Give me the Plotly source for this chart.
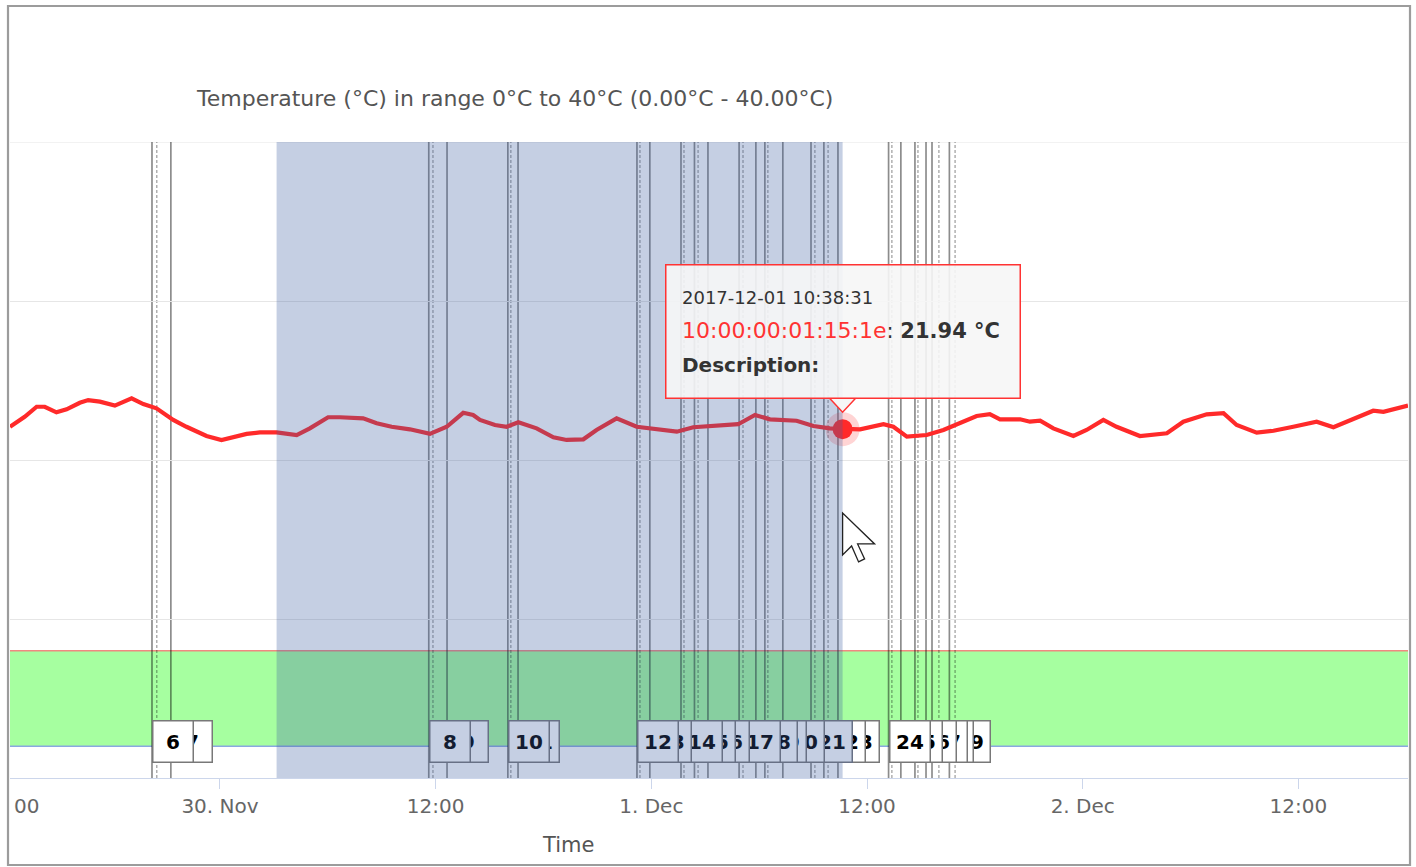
import plotly.graph_objects as go
import pandas as pd

# ---- temperature log (°C) ----
times = [
    "2017-11-29 12:19", "2017-11-29 13:08", "2017-11-29 13:48", "2017-11-29 14:15",
    "2017-11-29 14:54", "2017-11-29 15:28", "2017-11-29 16:12", "2017-11-29 16:40",
    "2017-11-29 17:19", "2017-11-29 18:09", "2017-11-29 19:05", "2017-11-29 19:44",
    "2017-11-29 20:28", "2017-11-29 21:24", "2017-11-29 22:08", "2017-11-29 23:15",
    "2017-11-30 00:05", "2017-11-30 00:44", "2017-11-30 01:29", "2017-11-30 02:13",
    "2017-11-30 03:09", "2017-11-30 04:16", "2017-11-30 05:00", "2017-11-30 06:01",
    "2017-11-30 06:40", "2017-11-30 07:58", "2017-11-30 08:43", "2017-11-30 09:33",
    "2017-11-30 10:34", "2017-11-30 11:41", "2017-11-30 12:37", "2017-11-30 13:32",
    "2017-11-30 14:05", "2017-11-30 14:28", "2017-11-30 15:18", "2017-11-30 15:57",
    "2017-11-30 16:36", "2017-11-30 17:37", "2017-11-30 18:33", "2017-11-30 19:17",
    "2017-11-30 20:13", "2017-11-30 20:57", "2017-11-30 22:04", "2017-11-30 23:11",
    "2017-12-01 00:29", "2017-12-01 01:25", "2017-12-01 02:20", "2017-12-01 03:27",
    "2017-12-01 04:50", "2017-12-01 05:46", "2017-12-01 06:36", "2017-12-01 08:05",
    "2017-12-01 09:01", "2017-12-01 09:56", "2017-12-01 10:38:31", "2017-12-01 11:37",
    "2017-12-01 12:55", "2017-12-01 13:28", "2017-12-01 14:13", "2017-12-01 15:19",
    "2017-12-01 16:15", "2017-12-01 17:10", "2017-12-01 18:06", "2017-12-01 18:50",
    "2017-12-01 19:24", "2017-12-01 20:31", "2017-12-01 21:04", "2017-12-01 21:38",
    "2017-12-01 22:22", "2017-12-01 23:29", "2017-12-02 00:13", "2017-12-02 01:09",
    "2017-12-02 01:53", "2017-12-02 03:11", "2017-12-02 04:41", "2017-12-02 05:36",
    "2017-12-02 06:54", "2017-12-02 07:50", "2017-12-02 08:34", "2017-12-02 09:41",
    "2017-12-02 10:37", "2017-12-02 11:43", "2017-12-02 13:01", "2017-12-02 13:57",
    "2017-12-02 15:04", "2017-12-02 16:10", "2017-12-02 16:44", "2017-12-02 18:06",
]
temps = [
    22.09, 22.72, 23.35, 23.35, 23.00, 23.19, 23.60, 23.77,
    23.67, 23.42, 23.88, 23.52, 23.25, 22.52, 22.09, 21.51,
    21.26, 21.43, 21.64, 21.74, 21.74, 21.57, 21.99, 22.69,
    22.69, 22.62, 22.31, 22.09, 21.93, 21.64, 22.09, 22.97,
    22.83, 22.52, 22.20, 22.09, 22.37, 21.99, 21.43, 21.26,
    21.30, 21.89, 22.62, 22.09, 21.93, 21.78, 22.06, 22.16,
    22.25, 22.83, 22.56, 22.47, 22.14, 21.99, 21.94, 21.93,
    22.25, 22.09, 21.47, 21.57, 21.89, 22.31, 22.77, 22.89,
    22.56, 22.56, 22.41, 22.47, 21.99, 21.51, 21.89, 22.52,
    22.09, 21.51, 21.68, 22.41, 22.87, 22.94, 22.20, 21.72,
    21.84, 22.09, 22.41, 22.06, 22.62, 23.10, 23.03, 23.42,
]

# hovered reading
sensor_id = "10:00:00:01:15:1e"
selected_time = "2017-12-01 10:38:31"
selected_temp = 21.94

# numbered events (solid plot lines) and their companion markers (dashed)
event_ids = list(range(6, 30))
event_times = [
    "2017-11-29 20:13", "2017-11-29 21:16", "2017-11-30 11:37", "2017-11-30 12:38",
    "2017-11-30 16:01", "2017-11-30 16:35", "2017-11-30 23:12", "2017-11-30 23:55",
    "2017-12-01 01:39", "2017-12-01 02:24", "2017-12-01 03:09", "2017-12-01 04:53",
    "2017-12-01 05:49", "2017-12-01 06:19", "2017-12-01 07:19", "2017-12-01 08:53",
    "2017-12-01 09:36", "2017-12-01 10:23", "2017-12-01 13:12", "2017-12-01 13:53",
    "2017-12-01 14:40", "2017-12-01 15:17", "2017-12-01 15:37", "2017-12-01 16:35",
]
marker_times = [
    "2017-11-29 20:29", "2017-11-30 11:51", "2017-11-30 16:11", "2017-11-30 23:22",
    "2017-12-01 01:49", "2017-12-01 02:36", "2017-12-01 05:06", "2017-12-01 06:29",
    "2017-12-01 09:06", "2017-12-01 09:50", "2017-12-01 13:23", "2017-12-01 14:50",
    "2017-12-01 16:00", "2017-12-01 16:54",
]

# selected period (plot band)
band_start = "2017-11-30 03:09"
band_end = selected_time

# acceptable range band
limit_low, limit_high = 2, 8
y_min, y_max = 0, 40

x_range = ["2017-11-29 12:19", "2017-12-02 18:06"]
tick_vals = ["2017-11-30 00:00", "2017-11-30 12:00", "2017-12-01 00:00",
             "2017-12-01 12:00", "2017-12-02 00:00", "2017-12-02 12:00"]
tick_text = ["30. Nov", "12:00", "1. Dec", "12:00", "2. Dec", "12:00"]

title_text = "Temperature (°C) in range 0°C to 40°C (0.00°C - 40.00°C)"

# ---- page geometry ----
W, H = 1416, 867
ML, MR, MT, MB = 10, 8, 142, 89
plot_w = W - ML - MR
plot_h = H - MT - MB
FONT = "DejaVu Sans"

BAND_RGB = (62, 95, 162)
BAND_A = 0.3


def blend(rgb):
    r, g, b = (round(c * (1 - BAND_A) + bc * BAND_A) for c, bc in zip(rgb, BAND_RGB))
    return f"rgb({r},{g},{b})"


fig = go.Figure()

fig.add_trace(go.Scatter(
    x=times, y=temps, mode="lines",
    line=dict(color="#ff2a2a", width=4.2, shape="linear"),
    hoverinfo="skip", showlegend=False,
))
# highlighted point with halo
fig.add_trace(go.Scatter(
    x=[selected_time], y=[selected_temp], mode="markers",
    marker=dict(size=34, color="rgba(255,60,60,0.22)", line=dict(width=0)),
    hoverinfo="skip", showlegend=False,
))
fig.add_trace(go.Scatter(
    x=[selected_time], y=[selected_temp], mode="markers",
    marker=dict(size=20, color="#ff2a2a", line=dict(width=0)),
    hoverinfo="skip", showlegend=False,
))

shapes = []
# limits band
shapes.append(dict(type="rect", xref="paper", x0=0, x1=1, yref="y", y0=limit_low, y1=limit_high,
                   fillcolor="#a6ffa0", line=dict(width=0), layer="below"))
shapes.append(dict(type="line", xref="paper", x0=0, x1=1, yref="y", y0=limit_high, y1=limit_high,
                   line=dict(color="#f08a80", width=1.5), layer="below"))
shapes.append(dict(type="line", xref="paper", x0=0, x1=1, yref="y", y0=limit_low, y1=limit_low,
                   line=dict(color="#8aa8e0", width=1.5), layer="below"))
# top grid line
shapes.append(dict(type="line", xref="paper", x0=0, x1=1, yref="y", y0=y_max, y1=y_max,
                   line=dict(color="#e6e6e6", width=1.2), layer="below"))

for t in marker_times:
    shapes.append(dict(type="line", xref="x", x0=t, x1=t, yref="paper", y0=0, y1=1,
                       line=dict(color="rgba(0,0,0,0.36)", width=1.3, dash="3px,2px"), layer="below"))
for t in event_times:
    shapes.append(dict(type="line", xref="x", x0=t, x1=t, yref="paper", y0=0, y1=1,
                       line=dict(color="rgba(0,0,0,0.45)", width=1.7), layer="below"))

# selected period overlay
shapes.append(dict(type="rect", xref="x", x0=band_start, x1=band_end, yref="paper", y0=0, y1=1,
                   fillcolor=f"rgba({BAND_RGB[0]},{BAND_RGB[1]},{BAND_RGB[2]},{BAND_A})",
                   line=dict(width=0), layer="above"))

# tooltip pointer
shapes.append(dict(type="path", xref="x", yref="y", xsizemode="pixel", ysizemode="pixel",
                   xanchor=selected_time, yanchor=selected_temp,
                   path="M -13,31 L 0,17 L 13,31 Z",
                   fillcolor="#f6f6f6", line=dict(color="#ff3333", width=1.5), layer="above"))

# mouse pointer
shapes.append(dict(type="path", xref="x", yref="y", xsizemode="pixel", ysizemode="pixel",
                   xanchor=selected_time, yanchor=16.67,
                   path="M 0,0 L 0,-42 L 9,-33 L 16,-49 L 22,-46 L 15,-31 L 32,-31 Z",
                   fillcolor="white", line=dict(color="#222", width=1.3), layer="above"))

# outer frame
shapes.append(dict(type="rect", xref="paper", yref="paper",
                   x0=-2 / plot_w, x1=1 + 2 / plot_w,
                   y0=-(MB - 2) / plot_h, y1=1 + (MT - 6) / plot_h,
                   line=dict(color="#9c9c9c", width=2.2), fillcolor="rgba(0,0,0,0)", layer="above"))

annotations = []

# event label boxes; earlier labels sit on top of later ones
x0_ts, x1_ts = pd.Timestamp(x_range[0]), pd.Timestamp(x_range[1])
px_per_hour = plot_w / ((x1_ts - x0_ts).total_seconds() / 3600)
BOX = 41
half_box = pd.Timedelta(hours=(BOX / 2) / px_per_hour)
b0, b1 = pd.Timestamp(band_start), pd.Timestamp(band_end)
for eid, t in reversed(list(zip(event_ids, event_times))):
    centre = pd.Timestamp(t) + half_box
    inside = b0 <= centre <= b1
    bg = blend((255, 255, 255)) if inside else "white"
    border = blend((120, 120, 120)) if inside else "rgb(120,120,120)"
    txt = blend((0, 0, 0)) if inside else "black"
    annotations.append(dict(
        x=t, xref="x", y=0, yref="paper", xanchor="left", yanchor="bottom", yshift=15,
        text=f"<b>{eid}</b>", showarrow=False, width=BOX - 2, height=BOX - 1,
        borderpad=0, borderwidth=1.5, bordercolor=border, bgcolor=bg,
        font=dict(family=FONT, size=20, color=txt), align="center", valign="middle",
    ))

# tooltip
annotations.append(dict(
    x=selected_time, xref="x", y=selected_temp, yref="y", xanchor="left", yanchor="bottom",
    xshift=-178, yshift=30, text=" ", showarrow=False, width=353, height=132,
    borderpad=0, borderwidth=1.5, bordercolor="#ff3333", bgcolor="rgba(246,246,246,0.9)",
))
tip_lines = [
    (f"{pd.Timestamp(selected_time):%Y-%m-%d %H:%M:%S}", 132, 18),
    (f"<span style='color:#ff3333;font-size:22px'>{sensor_id}</span>: "
     f"<b>{selected_temp:.2f} °C</b>", 99, 21),
    ("<b>Description:</b>", 64, 20),
]
for txt, dy, fs in tip_lines:
    annotations.append(dict(
        x=selected_time, xref="x", y=selected_temp, yref="y", xanchor="left", yanchor="middle",
        xshift=-163, yshift=dy, text=txt, showarrow=False, align="left",
        font=dict(family=FONT, size=fs, color="#333333"),
    ))

# x axis title and clipped left tick label
annotations.append(dict(x=(568 - ML) / plot_w, xref="paper", y=0, yref="paper", yanchor="middle",
                        yshift=-67, text="Time", showarrow=False,
                        font=dict(family=FONT, size=21, color="#555555")))
annotations.append(dict(x=0, xref="paper", y=0, yref="paper", xanchor="left", yanchor="middle",
                        xshift=2, yshift=-28, text="00", showarrow=False,
                        font=dict(family=FONT, size=20, color="#666666")))

fig.update_layout(
    width=W, height=H,
    margin=dict(l=ML, r=MR, t=MT, b=MB, pad=0),
    paper_bgcolor="white", plot_bgcolor="white",
    font=dict(family=FONT, size=20, color="#666666"),
    title=dict(text=title_text, x=197 / W, xanchor="left", xref="container",
               y=1 - 98 / H, yanchor="middle", yref="container",
               font=dict(family=FONT, size=22, color="#555555")),
    xaxis=dict(type="date", range=x_range, tickmode="array", tickvals=tick_vals, ticktext=tick_text,
               showgrid=False, showline=True, linecolor="#ccd6eb", linewidth=1,
               ticks="outside", ticklen=10, tickcolor="#ccd6eb", tickwidth=1,
               tickfont=dict(family=FONT, size=20, color="#666666"), zeroline=False),
    yaxis=dict(range=[y_min, y_max], dtick=10, showgrid=True, gridcolor="#e6e6e6", gridwidth=1,
               showticklabels=False, zeroline=False, showline=False, ticks=""),
    shapes=shapes, annotations=annotations, showlegend=False, hovermode=False,
)

fig.write_html("out.html")
